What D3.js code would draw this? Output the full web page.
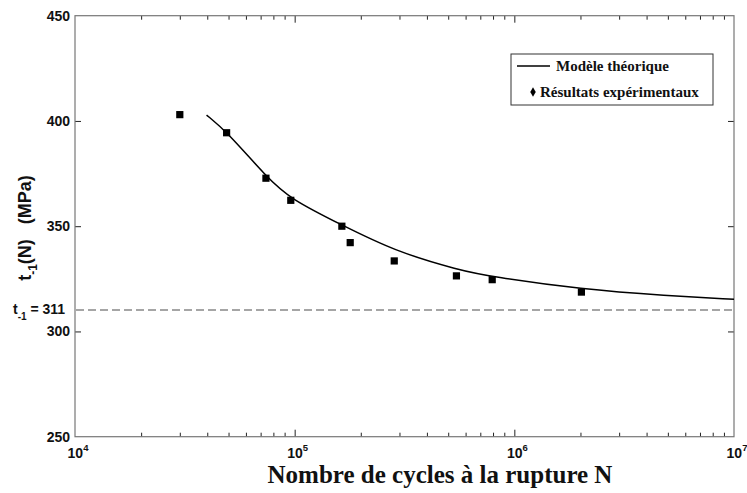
<!DOCTYPE html>
<html>
<head>
<meta charset="utf-8">
<script src="https://cdn.jsdelivr.net/npm/d3@7"></script>
<style>
  body { margin: 0; background: #fff; }
  svg { display: block; }
</style>
</head>
<body>
<div id="chart"></div>
<script>
// experimental points (cycles, MPa)
var expN = [30000, 49000, 74000, 96000, 164000, 179000, 284000, 545000, 793000, 2020000];
var expT = [403.0, 394.4, 372.8, 362.3, 350.0, 342.2, 333.5, 326.4, 324.6, 318.7];

// theoretical model curve
var modN = [39700, 49000, 74300, 95900, 164000, 281000, 565000, 793000, 2020000, 4930000, 10000000];
var modT = [402.8, 395.0, 373.5, 362.8, 350.6, 338.4, 329.0, 326.0, 320.0, 317.0, 315.3];

var yTicks = [250, 300, 350, 400, 450];
var xMajor = [4, 5, 6, 7];
var tauLimit = 310.2;
var tauLimitLabel = "311";

var width = 747, height = 493;
var mLeft = 75, mRight = 734, mTop = 15.7, mBottom = 436.7;

var svg = d3.select("#chart").append("svg")
  .attr("width", width).attr("height", height);
svg.append("rect").attr("width", width).attr("height", height).attr("fill", "#fff");

var x = d3.scaleLog().domain([1e4, 1e7]).range([mLeft, mRight]);
var y = d3.scaleLinear().domain([250, 450]).range([mBottom, mTop]);

var minor = x.ticks().filter(function (d) { return Math.abs(Math.log10(d) - Math.round(Math.log10(d))) > 1e-6; });
var major = xMajor.map(function (e) { return Math.pow(10, e); });

/* ticks */
function xTicks(g, vals, size, pos) {
  g.call(pos(x).tickValues(vals).tickSize(size).tickFormat(""));
  g.select(".domain").remove();
  g.selectAll("line").attr("stroke", "#222");
}
svg.append("g").attr("transform", "translate(0," + mBottom + ")").call(xTicks, minor, -4, d3.axisBottom);
svg.append("g").attr("transform", "translate(0," + mBottom + ")").call(xTicks, major.slice(1, 3), -7, d3.axisBottom);
svg.append("g").attr("transform", "translate(0," + mTop + ")").call(xTicks, minor, -4, d3.axisTop);
svg.append("g").attr("transform", "translate(0," + mTop + ")").call(xTicks, major.slice(1, 3), -7, d3.axisTop);

var yl = svg.append("g").attr("transform", "translate(" + mLeft + ",0)")
  .call(d3.axisLeft(y).tickValues([300, 350, 400]).tickSize(-6).tickFormat(""));
var yr = svg.append("g").attr("transform", "translate(" + mRight + ",0)")
  .call(d3.axisRight(y).tickValues([300, 350, 400]).tickSize(-6).tickFormat(""));
[yl, yr].forEach(function (g) {
  g.select(".domain").remove();
  g.selectAll("line").attr("stroke", "#222");
});

/* frame */
svg.append("rect")
  .attr("x", mLeft).attr("y", mTop)
  .attr("width", mRight - mLeft).attr("height", mBottom - mTop)
  .attr("fill", "none").attr("stroke", "#777").attr("stroke-width", 1.2);

/* y tick labels */
svg.append("g").selectAll("text").data(yTicks).enter().append("text")
  .attr("x", mLeft - 5).attr("y", function (d) { return y(d); })
  .attr("dy", "0.36em")
  .attr("text-anchor", "end")
  .style("font", "bold 14px 'Liberation Sans', Arial, sans-serif")
  .attr("fill", "#111")
  .text(function (d) { return d; });

/* x tick labels 10^n */
var xl = svg.append("g").selectAll("text").data(xMajor).enter().append("text")
  .attr("x", function (d) { return x(Math.pow(10, d)) + 3; })
  .attr("y", 458)
  .attr("text-anchor", "middle")
  .style("font", "bold 14px 'Liberation Sans', Arial, sans-serif")
  .attr("fill", "#111");
xl.append("tspan").text("10");
xl.append("tspan").attr("dy", -7).style("font-size", "9.5px").text(function (d) { return d; });

/* dashed endurance limit */
svg.append("line")
  .attr("x1", mLeft + 1).attr("x2", mRight - 1)
  .attr("y1", y(tauLimit)).attr("y2", y(tauLimit))
  .attr("stroke", "#888").attr("stroke-width", 1.5)
  .attr("stroke-dasharray", "8,4");

var lim = svg.append("text")
  .attr("x", 13).attr("y", y(tauLimit) + 4.5)
  .style("font", "bold 14px 'Liberation Sans', Arial, sans-serif")
  .attr("fill", "#111");
lim.append("tspan").text("t");
lim.append("tspan").attr("dy", 6).style("font-size", "10px").text("-1");
lim.append("tspan").attr("dy", -6).text(" = " + tauLimitLabel);

/* model curve */
var line = d3.line()
  .x(function (d, i) { return x(modN[i]); })
  .y(function (d, i) { return y(modT[i]); })
  .curve(d3.curveBasis);
svg.append("path")
  .attr("d", line(modN))
  .attr("fill", "none").attr("stroke", "#000").attr("stroke-width", 1.5);

/* experimental points */
svg.append("g").selectAll("rect").data(expN).enter().append("rect")
  .attr("x", function (d) { return x(d) - 3.6; })
  .attr("y", function (d, i) { return y(expT[i]) - 3.6; })
  .attr("width", 7.2).attr("height", 7.2)
  .attr("fill", "#000");

/* axis titles */
svg.append("text")
  .attr("x", 440).attr("y", 483)
  .attr("text-anchor", "middle")
  .style("font", "bold 25px 'Liberation Serif', 'Times New Roman', serif")
  .attr("fill", "#111")
  .text("Nombre de cycles à la rupture N");

var yt = svg.append("text")
  .attr("transform", "translate(31,228) rotate(-90)")
  .attr("text-anchor", "middle")
  .style("font", "bold 18px 'Liberation Sans', Arial, sans-serif")
  .attr("fill", "#111");
yt.append("tspan").text("t");
yt.append("tspan").attr("dy", 6).style("font-size", "12px").text("-1");
yt.append("tspan").attr("dy", -6).text("(N)\u00a0\u00a0\u00a0(MPa)");

/* legend */
var lg = svg.append("g");
lg.append("rect")
  .attr("x", 511).attr("y", 54).attr("width", 202).attr("height", 51)
  .attr("fill", "#fff").attr("stroke", "#333").attr("stroke-width", 1);
lg.append("line")
  .attr("x1", 517).attr("x2", 550).attr("y1", 66).attr("y2", 66)
  .attr("stroke", "#000").attr("stroke-width", 1.5);
lg.append("text")
  .attr("x", 556).attr("y", 70.5)
  .style("font", "bold 15px 'Liberation Serif', 'Times New Roman', serif")
  .attr("fill", "#111")
  .text("Modèle théorique");
lg.append("path")
  .attr("d", d3.symbol().type(d3.symbolDiamond).size(26)())
  .attr("transform", "translate(533,92)")
  .attr("fill", "#000");
lg.append("text")
  .attr("x", 540).attr("y", 96.5)
  .style("font", "bold 15px 'Liberation Serif', 'Times New Roman', serif")
  .attr("fill", "#111")
  .text("Résultats expérimentaux");
</script>
</body>
</html>
